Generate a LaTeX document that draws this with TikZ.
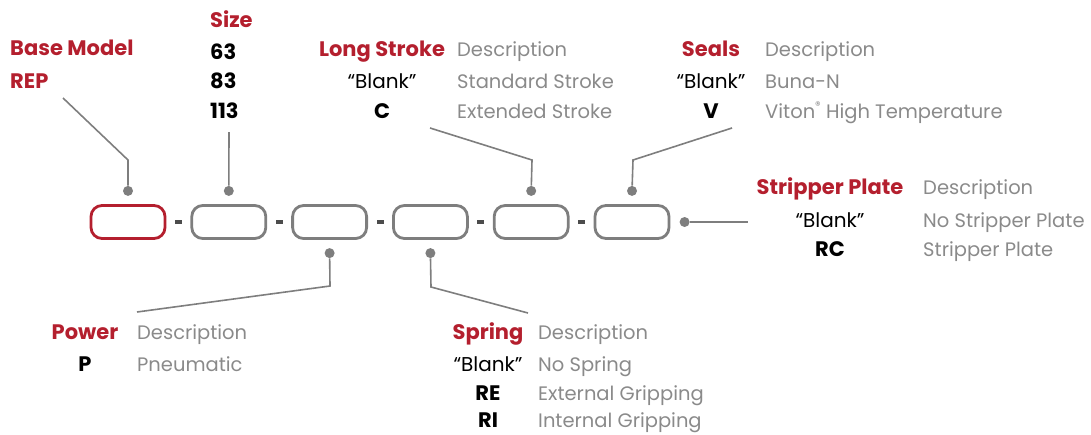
\documentclass[tikz,border=0pt]{standalone}
\usepackage{fontspec}
\setmainfont{Poppins}
\usetikzlibrary{positioning}
\definecolor{rojo}{HTML}{B41F2E}
\definecolor{gristxt}{HTML}{8A8A8A}
\definecolor{grilin}{HTML}{7E7E7E}

\begin{document}
\begin{tikzpicture}[x=1pt,y=-1pt,
    caja/.style={draw=grilin, line width=2.8pt, rounded corners=11pt,
      minimum width=74pt, minimum height=33pt, inner sep=0pt},
    guion/.style={fill=black!70, minimum width=7pt, minimum height=3.5pt, inner sep=0pt},
    punto/.style={circle, fill=grilin, minimum size=10pt, inner sep=0pt},
    linea/.style={draw=grilin, line width=1.6pt},
    tit/.style={text=rojo, font=\fontsize{21}{24}\selectfont\bfseries, inner sep=0pt},
    cod/.style={text=black, font=\fontsize{21}{24}\selectfont\bfseries, inner sep=0pt},
    blanco/.style={text=black, font=\fontsize{20}{24}\selectfont, inner sep=0pt},
    desc/.style={text=gristxt, font=\fontsize{19.5}{24}\selectfont, inner sep=0pt}]

    \useasboundingbox (0,0) rectangle (1091,434);

    % cajas del codigo
    \node[caja, draw=rojo] (b1) at (128,222) {};
    \node[caja, right=24pt of b1] (b2) {};
    \node[caja, right=24pt of b2] (b3) {};
    \node[caja, right=24pt of b3] (b4) {};
    \node[caja, right=24pt of b4] (b5) {};
    \node[caja, right=24pt of b5] (b6) {};

    % guiones
    \path (b1.east) -- (b2.west) node[midway, guion] (g1) {};
    \path (b2.east) -- (b3.west) node[midway, guion] (g2) {};
    \path (b3.east) -- (b4.west) node[midway, guion] (g3) {};
    \path (b4.east) -- (b5.west) node[midway, guion] (g4) {};
    \path (b5.east) -- (b6.west) node[midway, guion] (g5) {};

    % puntos
    \node[punto, above=8pt of b1] (p1) {};
    \node[punto, above=8pt of b2] (p2) {};
    \node[punto, below=8pt of b3] (p3) {};
    \node[punto, below=8pt of b4] (p4) {};
    \node[punto, above=8pt of b5] (p5) {};
    \node[punto, above=8pt of b6] (p6) {};
    \node[punto, right=9pt of b6] (p7) {};

    % codos y extremos
    \coordinate (k1) at (128,160);
    \coordinate (f1) at (63,98);
    \coordinate (f2) at (229,132);
    \coordinate (k5) at (532,160);
    \coordinate (f5) at (430,128);
    \coordinate (k6) at (633,160);
    \coordinate (f6) at (732,128);
    \coordinate (f7) at (748,222);
    \coordinate (k3) at (330,286);
    \coordinate (f3) at (137,312);
    \coordinate (k4) at (431,287);
    \coordinate (f4) at (528,313);

    % lineas
    \draw[linea] (p1) -- (k1) -- (f1);
    \draw[linea] (p2) -- (f2);
    \draw[linea] (p5) -- (k5) -- (f5);
    \draw[linea] (p6) -- (k6) -- (f6);
    \draw[linea] (p7) -- (f7);
    \draw[linea] (p3) -- (k3) -- (f3);
    \draw[linea] (p4) -- (k4) -- (f4);

    % base model
    \node[tit, anchor=base west] (tbase) at (10,55) {Base Model};
    \node[tit, anchor=base west] (rep) at (10,88) {REP};

    % size
    \node[tit, anchor=base west] (tsize) at (210,27) {Size};
    \node[cod, anchor=base west] (s63) at (210,59) {63};
    \node[cod, anchor=base west] (s83) at (210,88) {83};
    \node[cod, anchor=base west] (s113) at (210,118) {113};

    % long stroke
    \node[tit, anchor=base] (tlong) at (382,56) {Long Stroke};
    \node[blanco, anchor=base] (lbl) at (382,88) {“Blank”};
    \node[cod, anchor=base] (lc) at (382,118) {C};
    \node[desc, anchor=base west] (ld0) at (457,56) {Description};
    \node[desc, anchor=base west] (ld1) at (457,88) {Standard Stroke};
    \node[desc, anchor=base west] (ld2) at (457,118) {Extended Stroke};

    % seals
    \node[tit, anchor=base] (tseal) at (711,56) {Seals};
    \node[blanco, anchor=base] (sbl) at (711,88) {“Blank”};
    \node[cod, anchor=base] (sv) at (711,118) {V};
    \node[desc, anchor=base west] (sd0) at (765,56) {Description};
    \node[desc, anchor=base west] (sd1) at (765,88) {Buna-N};
    \node[desc, anchor=base west] (sd2) at (765,118) {Viton\raisebox{0.45em}{\fontsize{11}{11}\selectfont ®} High Temperature};

    % stripper plate
    \node[tit, anchor=base] (tstrip) at (830,194) {Stripper Plate};
    \node[blanco, anchor=base] (rbl) at (830,227) {“Blank”};
    \node[cod, anchor=base] (rc) at (830,256) {RC};
    \node[desc, anchor=base west] (rd0) at (923,194) {Description};
    \node[desc, anchor=base west] (rd1) at (923,227) {No Stripper Plate};
    \node[desc, anchor=base west] (rd2) at (923,256) {Stripper Plate};

    % power
    \node[tit, anchor=base] (tpow) at (85,339) {Power};
    \node[cod, anchor=base] (pp) at (85,371) {P};
    \node[desc, anchor=base west] (pd0) at (137,339) {Description};
    \node[desc, anchor=base west] (pd1) at (137,371) {Pneumatic};

    % spring
    \node[tit, anchor=base] (tspr) at (488,339) {Spring};
    \node[blanco, anchor=base] (gbl) at (488,371) {“Blank”};
    \node[cod, anchor=base] (gre) at (488,400) {RE};
    \node[cod, anchor=base] (gri) at (488,427) {RI};
    \node[desc, anchor=base west] (gd0) at (538,339) {Description};
    \node[desc, anchor=base west] (gd1) at (538,371) {No Spring};
    \node[desc, anchor=base west] (gd2) at (538,400) {External Gripping};
    \node[desc, anchor=base west] (gd3) at (538,427) {Internal Gripping};

\end{tikzpicture}
\end{document}
